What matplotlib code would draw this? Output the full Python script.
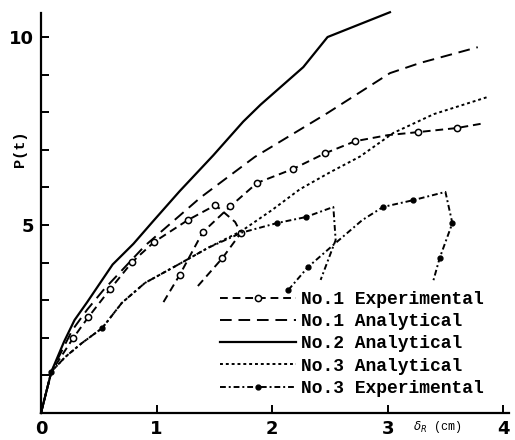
import numpy as np
import matplotlib
matplotlib.use("Agg")
import matplotlib.pyplot as plt

# No.2 analytical (solid)
x_no2_an = [0, 0.09, 0.2, 0.29, 0.4, 0.62, 0.8, 0.97, 1.2, 1.49, 1.75, 1.9, 2.27, 2.48, 3.02]
y_no2_an = [0, 1.1, 1.9, 2.47, 2.95, 3.95, 4.5, 5.1, 5.9, 6.85, 7.75, 8.2, 9.2, 10.0, 10.66]

# No.1 analytical (dashed)
x_no1_an = [0, 0.09, 0.27, 0.4, 0.54, 0.9, 1.38, 1.85, 2.48, 3.02, 3.28, 3.78]
y_no1_an = [0, 1.1, 2.2, 2.75, 3.27, 4.45, 5.73, 6.81, 7.98, 9.04, 9.31, 9.73]

# No.1 experimental: loading + post-peak / unloading branch
x_no1_ex = [0, 0.09, 0.28, 0.41, 0.6, 0.79, 0.98, 1.27, 1.51, 1.68, 1.73, 1.57, 1.35]
y_no1_ex = [0, 1.1, 2.0, 2.55, 3.3, 4.02, 4.55, 5.13, 5.53, 5.08, 4.79, 4.12, 3.35]
# No.1 experimental: reloading branch
x_no1_rl = [1.06, 1.2, 1.4, 1.64, 1.87, 2.18, 2.46, 2.72, 3.0, 3.26, 3.6, 3.84]
y_no1_rl = [2.95, 3.67, 4.81, 5.5, 6.12, 6.49, 6.91, 7.23, 7.39, 7.47, 7.58, 7.71]

# No.3 analytical (dotted)
x_no3_an = [0, 0.09, 0.21, 0.35, 0.53, 0.7, 0.9, 1.16, 1.45, 1.74, 2.0, 2.24, 2.5, 2.76, 3.05, 3.4, 3.86]
y_no3_an = [0, 1.1, 1.49, 1.85, 2.26, 2.93, 3.46, 3.9, 4.4, 4.85, 5.4, 5.95, 6.4, 6.82, 7.45, 7.95, 8.4]

# No.3 experimental: loading branch
x_no3_ex = [0, 0.09, 0.21, 0.35, 0.53, 0.7, 0.9, 1.16, 1.45, 1.74, 2.04, 2.29, 2.53, 2.55, 2.42]
y_no3_ex = [0, 1.1, 1.49, 1.85, 2.26, 2.93, 3.46, 3.9, 4.4, 4.8, 5.05, 5.21, 5.48, 4.6, 3.54]
# No.3 experimental: reloading branch
x_no3_rl = [2.14, 2.31, 2.53, 2.78, 2.96, 3.22, 3.5, 3.56, 3.45, 3.39]
y_no3_rl = [3.27, 3.88, 4.47, 5.13, 5.48, 5.66, 5.88, 5.05, 4.12, 3.46]

labels = ["No.1 Experimental", "No.1 Analytical", "No.2 Analytical",
          "No.3 Analytical", "No.3 Experimental"]

mono = "Liberation Mono"
fig = plt.figure(figsize=(5.15, 4.4), dpi=100)
ax = fig.add_axes([0.0796, 0.0614, 0.9087, 0.9091])

lw = 1.4
open_o = dict(marker="o", markersize=4.5, markerfacecolor="white",
              markeredgecolor="black", markeredgewidth=1.1)
fill_o = dict(marker="o", markersize=3.5, markerfacecolor="black",
              markeredgecolor="black")

h1e, = ax.plot(x_no1_ex, y_no1_ex, color="black", lw=lw, dashes=(4, 2.5),
               markevery=[2, 3, 4, 5, 6, 7, 8, 10, 11], **open_o)
ax.plot(x_no1_rl, y_no1_rl, color="black", lw=lw, dashes=(4, 2.5),
        markevery=[1, 2, 3, 4, 5, 6, 7, 9, 10], **open_o)
h1a, = ax.plot(x_no1_an, y_no1_an, color="black", lw=lw, dashes=(6, 3.5))
h2a, = ax.plot(x_no2_an, y_no2_an, color="black", lw=1.6, clip_on=False)
h3a, = ax.plot(x_no3_an, y_no3_an, color="black", lw=lw, dashes=(1.5, 1.5))
h3e, = ax.plot(x_no3_ex, y_no3_ex, color="black", lw=lw, dashes=(3, 1.5, 1, 1.5),
               markevery=[1, 4, 10, 11], **fill_o)
ax.plot(x_no3_rl, y_no3_rl, color="black", lw=lw, dashes=(3, 1.5, 1, 1.5),
        markevery=[0, 1, 4, 5, 7, 8], **fill_o)

ax.set_xlim(0, 4.05)
ax.set_ylim(0, 10.64)
for side in ["top", "right"]:
    ax.spines[side].set_visible(False)
for side in ["left", "bottom"]:
    ax.spines[side].set_linewidth(1.6)

ax.set_xticks([0, 1, 2, 3, 4])
ax.set_xticklabels(["0", "1", "2", "3", "4"])
ax.set_yticks(range(1, 11))
ax.set_yticklabels(["", "", "", "", "5", "", "", "", "", "10"])
ax.tick_params(direction="in", length=6, width=1.4, labelsize=13, pad=5)
for t in ax.get_xticklabels() + ax.get_yticklabels():
    t.set_fontweight("bold")

ax.set_ylabel("P(t)", family=mono, fontsize=11, fontweight="bold")
ax.yaxis.set_label_coords(-0.03, 0.66)
ax.text(3.22, -0.035, r"$\delta_R$ (cm)", family=mono, fontsize=8.5,
        transform=ax.get_xaxis_transform(), va="center", ha="left")

leg = fig.legend([h1e, h1a, h2a, h3a, h3e], labels, loc="upper left",
                 bbox_to_anchor=(220 / 515, 1 - 291 / 440), frameon=False,
                 borderpad=0, borderaxespad=0, handlelength=4.2,
                 handletextpad=0.3, labelspacing=0.29, numpoints=1,
                 prop={"family": mono, "size": 13, "weight": "bold"})

fig.savefig("out.png", dpi=100)
